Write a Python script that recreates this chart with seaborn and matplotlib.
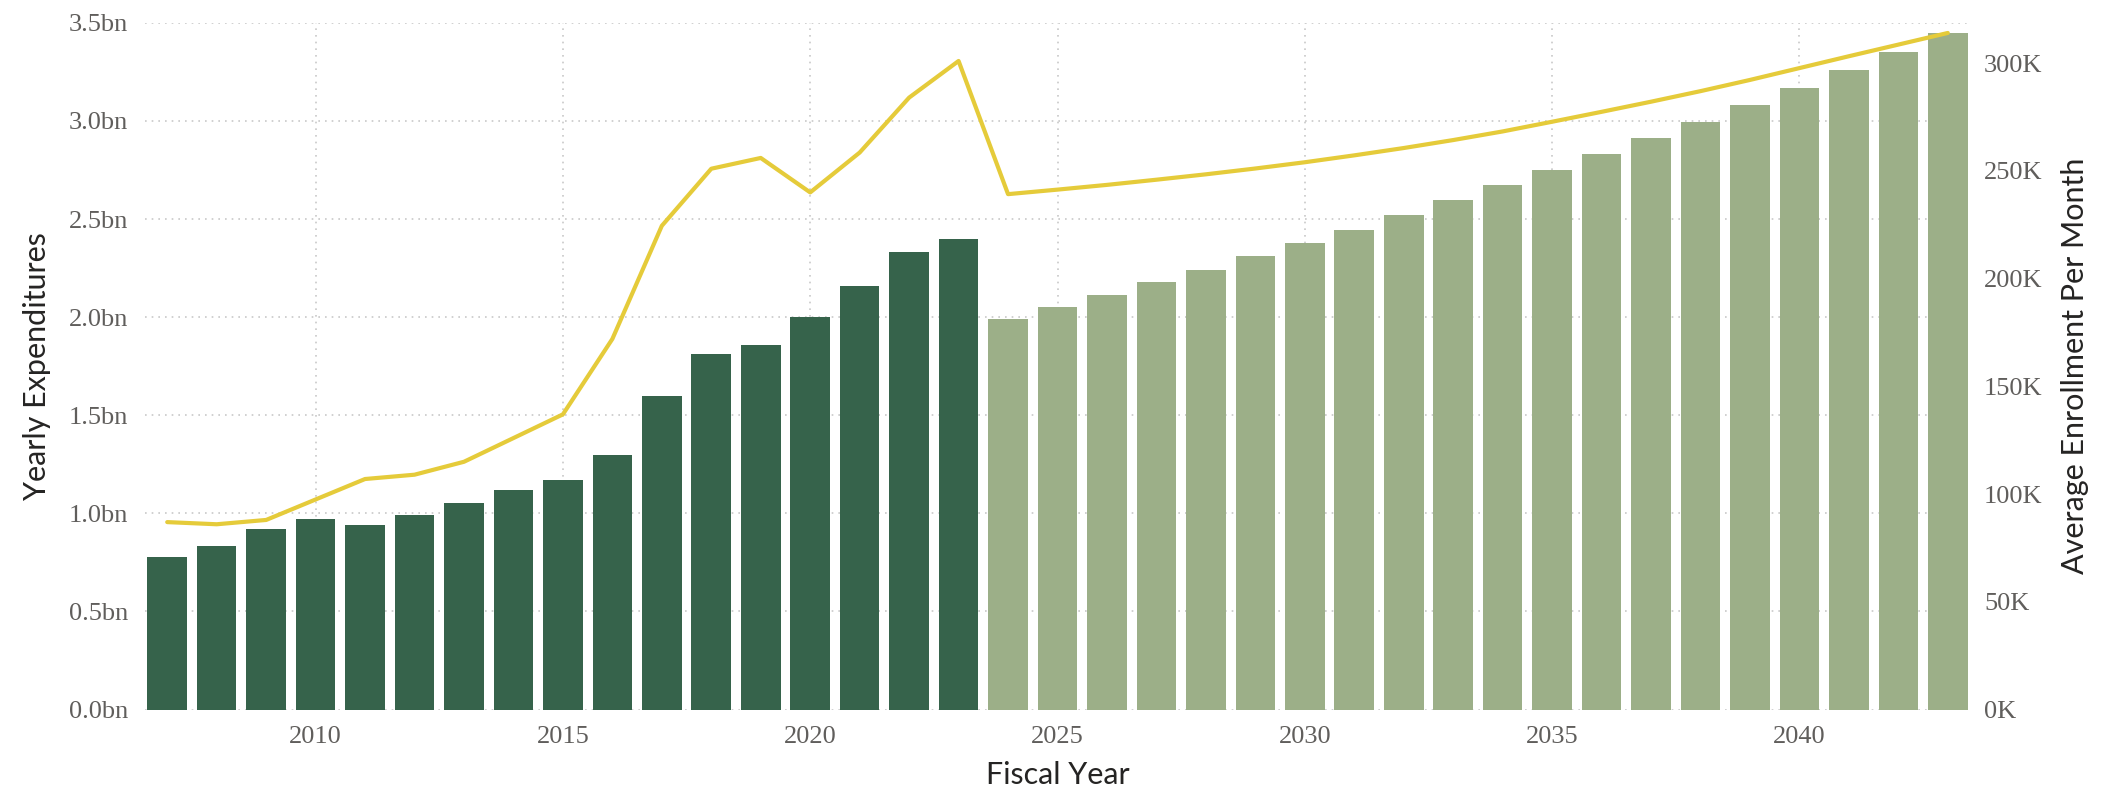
import seaborn as sns
import pandas as pd
import matplotlib.pyplot as plt
from matplotlib.ticker import FuncFormatter, MultipleLocator

# fiscal years, expenditures (bn) and average monthly enrollment (K)
years = list(range(2007, 2044))
expenditures = [0.78, 0.835, 0.92, 0.972, 0.943, 0.99, 1.055, 1.12, 1.17, 1.30,
                1.60, 1.81, 1.856, 2.00, 2.161, 2.33, 2.40,
                1.99, 2.05, 2.115, 2.178, 2.242, 2.31, 2.376, 2.446, 2.52, 2.597,
                2.673, 2.751, 2.831, 2.914, 2.995, 3.083, 3.169, 3.259, 3.353, 3.449]
enrollment = [87, 86, 88, 97.5, 107, 109, 115, 126, 137, 172,
              224.5, 251, 256, 240, 258.5, 284, 301,
              239.2, 241.3, 243.5, 245.9, 248.4, 251.1, 254.0, 257.2, 260.6, 264.3,
              268.3, 272.8, 277.4, 282.1, 287.0, 292.2, 297.7, 303.2, 308.6, 314.0]
last_actual = 2023

df = pd.DataFrame({'year': years, 'exp': expenditures, 'enroll': enrollment})
df['type'] = ['Actual' if y <= last_actual else 'Projected' for y in df['year']]

sns.set_theme(style='white')
plt.rcParams['font.family'] = ['Lato', 'DejaVu Sans']

tick_family = ['Liberation Serif', 'DejaVu Serif']
tick_color = '#605E5C'
label_color = '#252423'

fig = plt.figure(figsize=(21.07, 7.93), dpi=100)
ax = fig.add_axes([0.0688, 0.1052, 0.8662, 0.8660])

sns.barplot(data=df, x='year', y='exp', hue='type', native_scale=True, width=0.8,
            palette={'Actual': '#36634B', 'Projected': '#9CAF88'}, saturation=1,
            linewidth=0, legend=False, ax=ax)

ax2 = ax.twinx()
sns.lineplot(data=df, x='year', y='enroll', color='#E5CB3A', linewidth=3.0, ax=ax2)

ax.set_xlim(2006.55, 2043.45)
ax.set_ylim(0, 3.5)
ax2.set_ylim(0, 318.7)

ax.yaxis.set_major_locator(MultipleLocator(0.5))
ax.yaxis.set_major_formatter(FuncFormatter(lambda v, p: f'{v:.1f}bn'))
ax2.yaxis.set_major_locator(MultipleLocator(50))
ax2.yaxis.set_major_formatter(FuncFormatter(lambda v, p: f'{v:.0f}K'))
ax.xaxis.set_major_locator(MultipleLocator(5))

ax.grid(True, axis='both', linestyle=(0, (1, 3)), color='#C8C8C8', linewidth=1.2)
ax.set_axisbelow(True)
ax2.grid(False)

for a in (ax, ax2):
    for s in a.spines.values():
        s.set_visible(False)
    a.tick_params(length=0)

ax.tick_params(axis='y', pad=12)
ax.tick_params(axis='x', pad=12)
ax2.tick_params(axis='y', pad=10)
for lbl in ax.get_xticklabels() + ax.get_yticklabels() + ax2.get_yticklabels():
    lbl.set_fontfamily(tick_family)
    lbl.set_fontsize(19)
    lbl.set_color(tick_color)

ax.set_xlabel('Fiscal Year', fontsize=22, color=label_color, labelpad=9)
ax.set_ylabel('Yearly Expenditures', fontsize=22, color=label_color, labelpad=13)
ax2.set_ylabel('Average Enrollment Per Month', fontsize=22, color=label_color, labelpad=13)

fig.savefig('out.png', dpi=100)
